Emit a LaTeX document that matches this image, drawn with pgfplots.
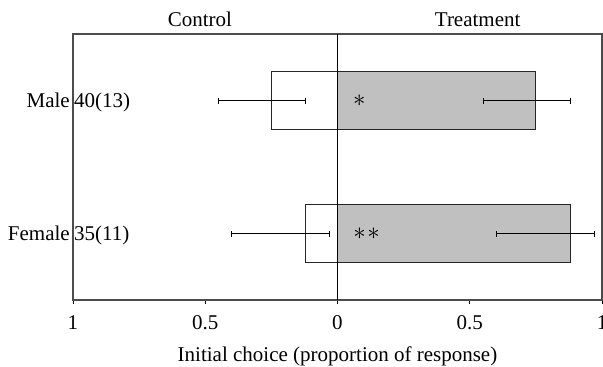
\documentclass[border=0pt]{standalone}
\usepackage{fontspec}
\setmainfont{Liberation Serif}
\usepackage{pgfplots}
\pgfplotsset{compat=1.18}
\usepackage{pgfplotstable}

% value, category (0 = Female, 1 = Male), error towards +x, error towards -x
\pgfplotstableread{
v     c  ep    em
-0.12 0  0.09  0.28
-0.25 1  0.13  0.20
}\control
\pgfplotstableread{
v     c  ep    em
0.88  0  0.09  0.28
0.75  1  0.13  0.20
}\treatment

\newcommand{\bigfont}{\fontsize{21}{24}\selectfont}
\definecolor{bargray}{HTML}{C0C0C0}

\begin{document}
\begin{tikzpicture}
\begin{axis}[
  name=ax,
  scale only axis,
  width=529pt, height=266pt,
  xmin=-1, xmax=1, ymin=-0.5, ymax=1.5,
  xbar, bar width=0.44, bar shift=0pt,
  xtick={-1,-0.5,0,0.5,1},
  xticklabels={1,0.5,0,0.5,1},
  xtick pos=lower,
  tick align=outside,
  major tick length=4pt,
  xtick style={black, line width=0.8pt},
  ytick={0,1},
  yticklabels={Female,Male},
  ytick style={draw=none},
  axis line style={black!70, line width=1.3pt},
  ticklabel style={font=\bigfont},
  xticklabel style={anchor=base, yshift=-25pt},
  yticklabel style={anchor=east, inner sep=1pt, xshift=2pt},
  xlabel={Initial choice (proportion of response)},
  xlabel style={font=\bigfont, at={(axis description cs:0.5,0)}, anchor=base, yshift=-61pt},
  clip=false,
]
\addplot[fill=white, draw=black!85, line width=0.8pt,
  error bars/.cd, x dir=both, x explicit, error mark=|,
  error bar style={black, line width=0.8pt},
  error mark options={black, line width=0.8pt, mark size=3pt}]
  table[x=v, y=c, x error plus=ep, x error minus=em] {\control};
\addplot[fill=bargray, draw=black!85, line width=0.8pt,
  error bars/.cd, x dir=both, x explicit, error mark=|,
  error bar style={black, line width=0.8pt},
  error mark options={black, line width=0.8pt, mark size=3pt}]
  table[x=v, y=c, x error plus=ep, x error minus=em] {\treatment};
\draw[black, line width=0.8pt] (axis cs:0,-0.5) -- (axis cs:0,1.5);
% sample sizes beside the group names
\node[font=\bigfont, anchor=base west, inner sep=1pt, yshift=-7.3pt] at (axis cs:-1,1) {40(13)};
\node[font=\bigfont, anchor=base west, inner sep=1pt, yshift=-7.3pt] at (axis cs:-1,0) {35(11)};
% significance markers
\node[font=\fontsize{30}{32}\selectfont, inner sep=0pt] at (axis cs:0.083,1) {$\ast$};
\node[font=\fontsize{30}{32}\selectfont, inner sep=0pt] at (axis cs:0.11,0) {${\ast}\mkern1mu{\ast}$};
% panel headings
\node[font=\bigfont, anchor=base, yshift=8pt] at (axis cs:-0.52,1.5) {Control};
\node[font=\bigfont, anchor=base, yshift=8pt] at (axis cs:0.53,1.5) {Treatment};
\end{axis}
\pgfresetboundingbox
\useasboundingbox ([xshift=-73pt,yshift=-67pt]ax.south west) rectangle ([xshift=1pt,yshift=34pt]ax.north east);
\end{tikzpicture}
\end{document}
